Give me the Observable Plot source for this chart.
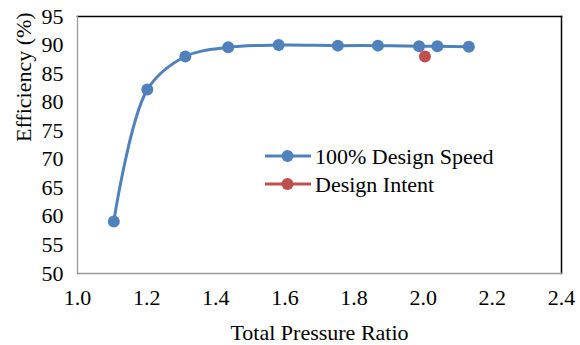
<!DOCTYPE html>
<html><head><meta charset="utf-8">
<script src="https://cdn.jsdelivr.net/npm/d3@7"></script>
<script src="https://cdn.jsdelivr.net/npm/@observablehq/plot@0.6"></script>
<style>body{margin:0;background:#fff;}</style>
</head><body><div id="chart"></div>
<script>
const pressureRatio = [1.105, 1.202, 1.312, 1.436, 1.582, 1.753, 1.869, 1.988, 2.041, 2.132];
const efficiency = [59.1, 82.2, 88.0, 89.6, 90.0, 89.9, 89.9, 89.8, 89.8, 89.7];
const intentRatio = [2.005];
const intentEfficiency = [88.0];
const xTicks = [1.0, 1.2, 1.4, 1.6, 1.8, 2.0, 2.2, 2.4];
const yTicks = [50, 55, 60, 65, 70, 75, 80, 85, 90, 95];
const seriesNames = ["100% Design Speed", "Design Intent"];
const colors = ["#4F81BD", "#C0504D"];
const xTitle = "Total Pressure Ratio";
const yTitle = "Efficiency (%)";

const speed = pressureRatio.map((x, i) => ({x, y: efficiency[i]}));
const intent = intentRatio.map((x, i) => ({x, y: intentEfficiency[i]}));

const FONT = "Liberation Serif";
const FS = 22;
const W = 580, H = 345, mL = 77, mT = 16, mR = 19, mB = 72;
const chart = Plot.plot({
  width: W, height: H, marginLeft: mL, marginTop: mT, marginRight: mR, marginBottom: mB,
  style: {fontFamily: FONT, fontSize: FS + "px", color: "#000", background: "#fff"},
  x: {domain: [1.0, 2.4]},
  y: {domain: [50, 95]},
  marks: [
    Plot.line(speed, {x: "x", y: "y", stroke: colors[0], strokeWidth: 3, curve: "catmull-rom"}),
    Plot.dot(speed, {x: "x", y: "y", r: 6, fill: colors[0]}),
    Plot.dot(intent, {x: "x", y: "y", r: 6, fill: colors[1]}),
    Plot.frame({anchor: "top", stroke: "#000", strokeWidth: 1.5}),
    Plot.frame({anchor: "right", stroke: "#000", strokeWidth: 1.5}),
    Plot.frame({anchor: "left", stroke: "#9a9a9a", strokeWidth: 1.3}),
    Plot.frame({anchor: "bottom", stroke: "#9a9a9a", strokeWidth: 1.3}),
    Plot.axisY({ticks: yTicks, tickSize: 0, tickPadding: 14, tickFormat: d => String(d), label: null, fontSize: FS, fontFamily: FONT}),
    Plot.axisX({ticks: xTicks, tickSize: 0, tickPadding: 16, tickFormat: d => d.toFixed(1), label: null, fontSize: FS, fontFamily: FONT}),
    Plot.text([xTitle], {text: d => d, frameAnchor: "bottom", lineAnchor: "middle", dy: 59, fontSize: FS, fontFamily: FONT, fill: "#000"}),
    Plot.text([yTitle], {text: d => d, frameAnchor: "left", lineAnchor: "middle", rotate: -90, dx: -54, dy: -3, fontSize: FS, fontFamily: FONT, fill: "#000"})
  ]
});
document.getElementById("chart").appendChild(chart);

// legend inside plot area
const svg = d3.select(chart);
const leg = svg.append("g").attr("text-anchor", "start");
const ly = [156, 184];
seriesNames.forEach((name, i) => {
  leg.append("line").attr("x1", 265).attr("x2", 311).attr("y1", ly[i]).attr("y2", ly[i]).attr("stroke", colors[i]).attr("stroke-width", 3);
  leg.append("circle").attr("cx", 287.5).attr("cy", ly[i]).attr("r", 6).attr("fill", colors[i]);
  leg.append("text").attr("x", 315).attr("y", ly[i]).attr("dy", "0.35em").attr("text-anchor", "start").attr("font-size", FS).attr("fill", "#000").text(name);
});
svg.style("font-family", FONT, "important");
svg.selectAll("g, text, tspan").attr("font-family", FONT).style("font-family", FONT, "important");
</script></body></html>
